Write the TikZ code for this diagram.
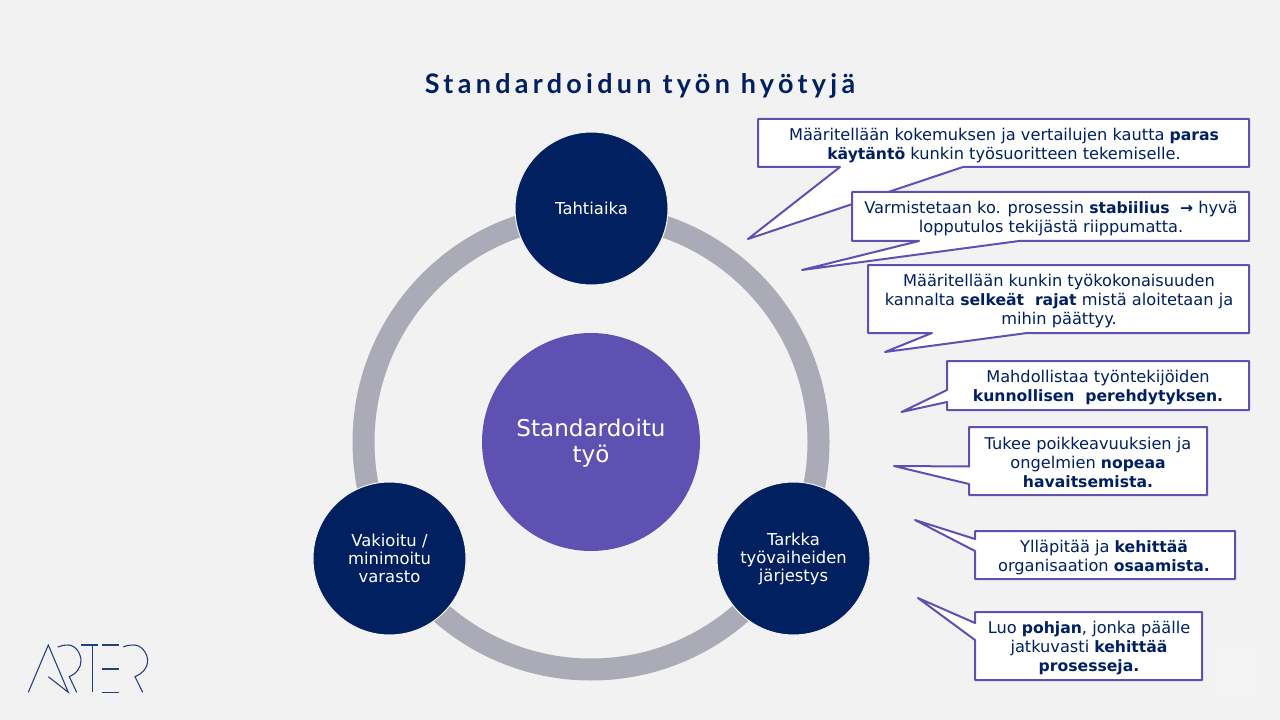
\documentclass[tikz,border=0pt]{standalone}
\usepackage{fontspec}
\setmainfont{DejaVu Sans}[BoldFeatures={Scale=0.965}]
\newfontfamily\titlefont[LetterSpace=16,Ligatures=NoCommon]{Lato}
\definecolor{bgc}{HTML}{F2F2F2}
\definecolor{navy}{HTML}{00205F}
\definecolor{violet2}{HTML}{5F51B2}
\definecolor{ringc}{HTML}{ABABB8}
\definecolor{logoc}{HTML}{1F3F7F}
\definecolor{faintc}{HTML}{F3F3F3}
\tikzset{
  calloutbox/.style={draw=violet2,line width=1.5pt,fill=white,line join=round},
  calltext/.style={text=navy,align=center,font=\fontsize{12.15}{14.3}\selectfont,inner sep=0pt},
  bigdisc/.style={circle,fill=navy,draw=bgc,line width=0.75pt,text=white,align=center,minimum size=114.75pt,inner sep=0pt,font=\fontsize{12.3}{13.5}\selectfont},
  logoline/.style={draw=logoc,line width=0.8pt}
}
\begin{document}
\begin{tikzpicture}[x=0.75pt,y=-0.75pt]
\useasboundingbox (0,0) rectangle (1280,720);
\fill[bgc] (0,0) rectangle (1280,720);
\fill[faintc] (1212,646) rectangle (1258,699);
% title
\node[text=navy,font=\titlefont\bfseries\fontsize{20.2}{24}\selectfont,inner sep=0pt] (title) at (640,85.5) {Standardoidun työn hyötyjä};
% ring
\draw[ringc,line width=16.5pt] (591,442) circle[radius=227.5];
% discs
\node[bigdisc] (top) at (591.5,208.5) {Tahtiaika};
\node[bigdisc] (left) at (389.5,558.5) {Vakioitu /\\minimoitu\\varasto};
\node[bigdisc] (right) at (793.5,558.5) {Tarkka\\työvaiheiden\\järjestys};
\node[circle,fill=violet2,text=white,align=center,minimum size=163.5pt,inner sep=0pt,font=\fontsize{17.3}{19}\selectfont] (core) at (591,442) {\rule{0pt}{14.8pt}Standardoitu\\työ};
% callouts
\draw[calloutbox] (758,119) -- (1249,119) -- (1249,167) -- (963,167) -- (748,239) -- (840,167) -- (758,167) -- cycle;
\draw[calloutbox] (852,192) -- (1249,192) -- (1249,241) -- (1019,241) -- (802,270) -- (919,241) -- (852,241) -- cycle;
\draw[calloutbox] (868,265) -- (1249,265) -- (1249,333) -- (1027,333) -- (885,352) -- (932,333) -- (868,333) -- cycle;
\draw[calloutbox] (947,361) -- (1249,361) -- (1249,410) -- (947,410) -- (947,402) -- (901.5,412) -- (947,390) -- cycle;
\draw[calloutbox] (969,427) -- (1207,427) -- (1207,495) -- (969,495) -- (969,484) -- (894,466) -- (969,466.5) -- cycle;
\draw[calloutbox] (975,531) -- (1235,531) -- (1235,579) -- (975,579) -- (975,551) -- (915,520) -- (975,539) -- cycle;
\draw[calloutbox] (975,612) -- (1202,612) -- (1202,680) -- (975,680) -- (975,640) -- (918,598) -- (975,623) -- cycle;
\node[calltext] (t1) at (1004,145.7) {Määritellään kokemuksen ja vertailujen kautta \textbf{paras}\\\textbf{käytäntö} kunkin työsuoritteen tekemiselle.};
\node[calltext] (t2) at (1051,218.5) {Varmistetaan ko. prosessin \textbf{stabiilius} \ \textbf{→} hyvä\\lopputulos tekijästä riippumatta.};
\node[calltext] (t3) at (1059,301) {Määritellään kunkin työkokonaisuuden\\kannalta \textbf{selkeät\ \ rajat} mistä aloitetaan ja\\mihin päättyy.};
\node[calltext] (t4) at (1098,387.5) {Mahdollistaa työntekijöiden\\\textbf{kunnollisen\ \ perehdytyksen.}};
\node[calltext] (t5) at (1088,462.5) {Tukee poikkeavuuksien ja\\ongelmien \textbf{nopeaa}\\\textbf{havaitsemista.}};
\node[calltext] (t6) at (1104,557.5) {Ylläpitää ja \textbf{kehittää}\\organisaation \textbf{osaamista.}};
\node[calltext] (t7) at (1089,648) {Luo \textbf{pohjan}, jonka päälle\\jatkuvasti \textbf{kehittää}\\\textbf{prosesseja.}};
% logo
\draw[logoline] (28.3,692.3) -- (48.3,645) -- (68.3,692.3) -- (48.3,676.7);
\draw[logoline] (57.7,647) .. controls (61,645.5) and (65,645) .. (68,645) .. controls (76,645) and (81,654) .. (81,661) .. controls (81,668) and (76,674) .. (69.3,676.7) -- (76.7,692.3);
\draw[logoline] (81,645) -- (97.7,645);
\draw[logoline] (92.3,645) -- (92.3,692.3);
\draw[logoline] (102.3,645) -- (119,645);
\draw[logoline,line width=1.2pt] (102.3,669) -- (119,669);
\draw[logoline] (102.3,692.3) -- (119,692.3);
\draw[logoline] (123.3,647) .. controls (126,645.5) and (130,645) .. (134,645) .. controls (142,645) and (147.7,654) .. (147.7,661) .. controls (147.7,668) and (142,674) .. (135,676.7) -- (142.7,692.3);
\end{tikzpicture}
\end{document}
